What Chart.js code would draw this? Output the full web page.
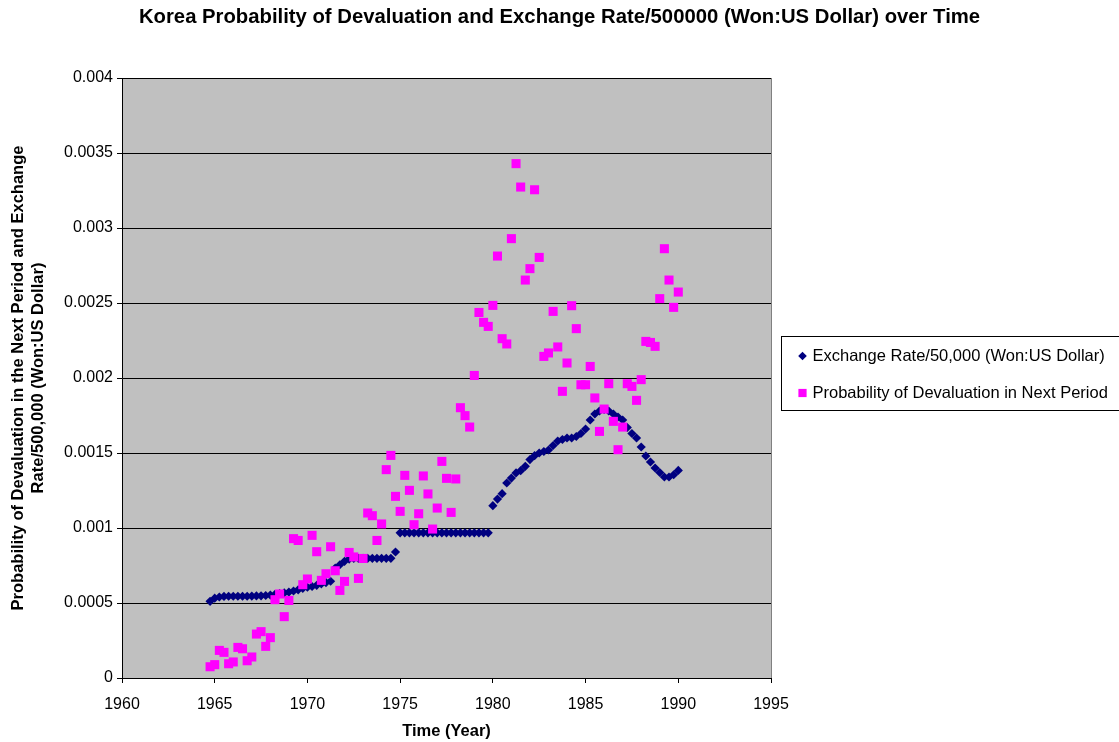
<!DOCTYPE html>
<html>
<head>
<meta charset="utf-8">
<script src="https://cdn.jsdelivr.net/npm/chart.js@4/dist/chart.umd.min.js"></script>
<style>
  html, body { margin: 0; padding: 0; background: #ffffff; }
  canvas { display: block; }
</style>
</head>
<body>
<canvas id="chart" width="1119" height="742"></canvas>
<script>
// Quarterly observations, Q4 1964 to Q1 1990 (decimal years)
const quarters = [
  1964.75, 1965.00, 1965.25, 1965.50, 1965.75, 1966.00, 1966.25, 1966.50, 1966.75, 1967.00,
  1967.25, 1967.50, 1967.75, 1968.00, 1968.25, 1968.50, 1968.75, 1969.00, 1969.25, 1969.50,
  1969.75, 1970.00, 1970.25, 1970.50, 1970.75, 1971.00, 1971.25, 1971.50, 1971.75, 1972.00,
  1972.25, 1972.50, 1972.75, 1973.00, 1973.25, 1973.50, 1973.75, 1974.00, 1974.25, 1974.50,
  1974.75, 1975.00, 1975.25, 1975.50, 1975.75, 1976.00, 1976.25, 1976.50, 1976.75, 1977.00,
  1977.25, 1977.50, 1977.75, 1978.00, 1978.25, 1978.50, 1978.75, 1979.00, 1979.25, 1979.50,
  1979.75, 1980.00, 1980.25, 1980.50, 1980.75, 1981.00, 1981.25, 1981.50, 1981.75, 1982.00,
  1982.25, 1982.50, 1982.75, 1983.00, 1983.25, 1983.50, 1983.75, 1984.00, 1984.25, 1984.50,
  1984.75, 1985.00, 1985.25, 1985.50, 1985.75, 1986.00, 1986.25, 1986.50, 1986.75, 1987.00,
  1987.25, 1987.50, 1987.75, 1988.00, 1988.25, 1988.50, 1988.75, 1989.00, 1989.25, 1989.50,
  1989.75, 1990.00
];

// Won per US dollar divided by 500,000
const exchangeRate = [
  0.000511, 0.000532, 0.000540, 0.000544, 0.000545, 0.000545, 0.000545, 0.000545, 0.000545, 0.000546,
  0.000547, 0.000548, 0.000550, 0.000553, 0.000557, 0.000562, 0.000567, 0.000573, 0.000580, 0.000588,
  0.000598, 0.000605, 0.000610, 0.000618, 0.000628, 0.000636, 0.000645, 0.000733, 0.000755, 0.000778,
  0.000793, 0.000798, 0.000798, 0.000798, 0.000798, 0.000798, 0.000798, 0.000798, 0.000798, 0.000798,
  0.000840, 0.000968, 0.000968, 0.000968, 0.000968, 0.000968, 0.000968, 0.000968, 0.000968, 0.000968,
  0.000968, 0.000968, 0.000968, 0.000968, 0.000968, 0.000968, 0.000968, 0.000968, 0.000968, 0.000968,
  0.000968, 0.001149, 0.001193, 0.001229, 0.001300, 0.001333, 0.001367, 0.001382, 0.001411, 0.001456,
  0.001482, 0.001500, 0.001510, 0.001520, 0.001550, 0.001580, 0.001590, 0.001600, 0.001600, 0.001610,
  0.001630, 0.001660, 0.001720, 0.001760, 0.001780, 0.001790, 0.001780, 0.001760, 0.001740, 0.001720,
  0.001670, 0.001630, 0.001600, 0.001540, 0.001480, 0.001440, 0.001400, 0.001370, 0.001340, 0.001340,
  0.001355, 0.001384
];

// Estimated probability of a devaluation in the following quarter
const devaluationProb = [
  0.000075, 0.000089, 0.000184, 0.000171, 0.000095, 0.000107, 0.000204, 0.000195, 0.000115, 0.000140,
  0.000293, 0.000309, 0.000211, 0.000269, 0.000522, 0.000560, 0.000409, 0.000517, 0.000929, 0.000917,
  0.000622, 0.000660, 0.000951, 0.000842, 0.000651, 0.000695, 0.000875, 0.000715, 0.000584, 0.000644,
  0.000837, 0.000807, 0.000664, 0.000797, 0.001100, 0.001082, 0.000917, 0.001027, 0.001389, 0.001484,
  0.001211, 0.001111, 0.001351, 0.001251, 0.001022, 0.001095, 0.001347, 0.001227, 0.000993, 0.001133,
  0.001444, 0.001331, 0.001104, 0.001327, 0.001802, 0.001749, 0.001673, 0.002017, 0.002437, 0.002371,
  0.002344, 0.002484, 0.002813, 0.002262, 0.002227, 0.002929, 0.003429, 0.003273, 0.002653, 0.002729,
  0.003255, 0.002804, 0.002144, 0.002167, 0.002444, 0.002207, 0.001911, 0.002100, 0.002482, 0.002329,
  0.001955, 0.001955, 0.002077, 0.001867, 0.001644, 0.001793, 0.001962, 0.001711, 0.001522, 0.001673,
  0.001962, 0.001944, 0.001851, 0.001989, 0.002244, 0.002237, 0.002211, 0.002529, 0.002862, 0.002653,
  0.002471, 0.002573
];

const yearTicks = [1960, 1965, 1970, 1975, 1980, 1985, 1990, 1995];
const valueTicks = [0, 0.0005, 0.001, 0.0015, 0.002, 0.0025, 0.003, 0.0035, 0.004];

const chartTitle = 'Korea Probability of Devaluation and Exchange Rate/500000 (Won:US Dollar) over Time';
const seriesNames = [
  'Exchange Rate/50,000 (Won:US Dollar)',
  'Probability of Devaluation in Next Period'
];

const FONT = '"Liberation Sans", Arial, Helvetica, sans-serif';
Chart.defaults.font.family = FONT;
Chart.defaults.color = '#000000';

const pointsOf = (xs, ys) => xs.map((x, i) => ({ x: x, y: ys[i] }));

// Grey plot area with a thin frame
const plotBackground = {
  id: 'plotBackground',
  beforeDraw(chart) {
    const { ctx, chartArea: a } = chart;
    ctx.save();
    ctx.fillStyle = '#c0c0c0';
    ctx.fillRect(a.left, a.top, a.right - a.left, a.bottom - a.top);
    ctx.strokeStyle = '#808080';
    ctx.lineWidth = 1;
    ctx.strokeRect(Math.round(a.left) + 0.5, Math.round(a.top) + 0.5,
                   Math.round(a.right - a.left), Math.round(a.bottom - a.top));
    ctx.restore();
  }
};

// Title centred across the whole canvas (legend column included)
const wideTitle = {
  id: 'wideTitle',
  afterDraw(chart) {
    const ctx = chart.ctx;
    ctx.save();
    ctx.font = 'bold 20.3px ' + FONT;
    ctx.fillStyle = '#000000';
    ctx.textAlign = 'center';
    ctx.textBaseline = 'middle';
    ctx.fillText(chartTitle, chart.width / 2, 17);
    ctx.restore();
  }
};

// Boxed legend to the right of the plot
const boxLegend = {
  id: 'boxLegend',
  afterDraw(chart) {
    const ctx = chart.ctx;
    const a = chart.chartArea;
    const boxX = a.right + 10.5;
    const boxY = 336.5;
    ctx.save();
    ctx.strokeStyle = '#000000';
    ctx.lineWidth = 1;
    ctx.strokeRect(boxX, boxY, 400, 74);
    ctx.font = '16.5px ' + FONT;
    ctx.textBaseline = 'middle';
    ctx.textAlign = 'left';
    const rows = [356, 393];
    chart.data.datasets.forEach((ds, i) => {
      const y = rows[i];
      ctx.fillStyle = ds.backgroundColor;
      ctx.strokeStyle = ds.backgroundColor;
      Chart.helpers.drawPoint(ctx, {
        pointStyle: ds.pointStyle,
        radius: ds.pointStyle === 'rect' ? 5.8 : 4.3,
        rotation: 0,
        borderWidth: 0
      }, boxX + 21, y);
      ctx.fillStyle = '#000000';
      ctx.fillText(ds.label, boxX + 31, y);
    });
    ctx.restore();
  }
};

new Chart(document.getElementById('chart'), {
  type: 'scatter',
  data: {
    datasets: [
      {
        label: seriesNames[0],
        data: pointsOf(quarters, exchangeRate),
        backgroundColor: '#000080',
        borderColor: '#000080',
        pointStyle: 'rectRot',
        pointRadius: 4.6,
        borderWidth: 0,
        order: 2
      },
      {
        label: seriesNames[1],
        data: pointsOf(quarters, devaluationProb),
        backgroundColor: '#ff00ff',
        borderColor: '#ff00ff',
        pointStyle: 'rect',
        pointRadius: 6.4,
        borderWidth: 0,
        order: 1
      }
    ]
  },
  options: {
    responsive: false,
    animation: false,
    devicePixelRatio: 1,
    layout: { padding: { left: 0, right: 348, top: 78, bottom: 0 } },
    plugins: {
      legend: { display: false },
      tooltip: { enabled: false },
      title: { display: false }
    },
    scales: {
      x: {
        type: 'linear',
        min: 1960,
        max: 1995,
        afterBuildTicks(scale) { scale.ticks = yearTicks.map(v => ({ value: v })); },
        afterFit(scale) { scale.height = 64; },
        ticks: {
          callback: v => String(v),
          font: { size: 16, family: FONT },
          color: '#000000',
          padding: 12,
          maxRotation: 0,
          autoSkip: false
        },
        grid: {
          drawOnChartArea: false,
          drawTicks: true,
          tickLength: 5,
          color: '#000000'
        },
        border: { display: true, color: '#000000', width: 1 },
        title: {
          display: true,
          text: 'Time (Year)',
          font: { size: 16.5, weight: 'bold', family: FONT },
          padding: { top: 0, bottom: 1 },
          color: '#000000'
        }
      },
      y: {
        type: 'linear',
        min: 0,
        max: 0.004,
        afterBuildTicks(scale) { scale.ticks = valueTicks.map(v => ({ value: v })); },
        afterFit(scale) { scale.width = 122; },
        ticks: {
          callback: v => String(parseFloat(Number(v).toFixed(4))),
          font: { size: 16, family: FONT },
          color: '#000000',
          padding: 4
        },
        grid: {
          drawOnChartArea: true,
          drawTicks: true,
          tickLength: 5,
          color: '#000000',
          lineWidth: 1
        },
        border: { display: true, color: '#000000', width: 1 },
        title: {
          display: true,
          text: ['Probability of Devaluation in the Next Period and Exchange',
                 'Rate/500,000 (Won:US Dollar)'],
          font: { size: 16.5, weight: 'bold', family: FONT },
          padding: { top: 9, bottom: 0 },
          color: '#000000'
        }
      }
    }
  },
  plugins: [plotBackground, wideTitle, boxLegend]
});
</script>
</body>
</html>
